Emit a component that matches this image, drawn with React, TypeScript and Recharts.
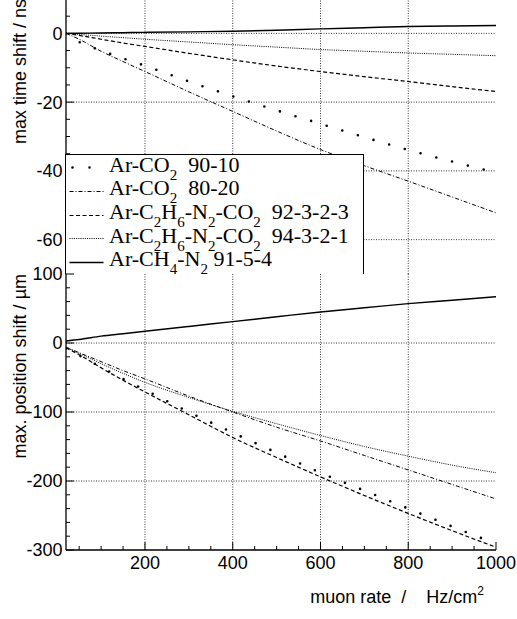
import React from "react";
import { Legend, Line, LineChart, ReferenceLine, XAxis, YAxis } from "recharts";

const SANS = "'Liberation Sans', Arial, sans-serif";
const SERIF = "'Liberation Serif', 'Times New Roman', serif";

const rate = [20, 50, 100, 150, 200, 300, 400, 500, 600, 700, 800, 900, 1000];

// max time shift / ns
const timeArCo2_9010 = [0, -2.5, -5.0, -7.3, -9.4, -14.0, -18.3, -22.4, -26.3, -30.2, -33.9, -37.3, -40.5];
const timeArCo2_8020 = [0, -1.7, -5.2, -8.2, -11.1, -17.0, -22.7, -28.4, -33.8, -38.5, -43.0, -47.6, -52.2];
const timeEthane_9232 = [0, -0.6, -1.7, -2.8, -3.8, -5.8, -7.7, -9.5, -11.1, -12.6, -14.0, -15.5, -16.9];
const timeEthane_9432 = [0, -0.3, -0.8, -1.25, -1.7, -2.5, -3.3, -4.0, -4.7, -5.2, -5.7, -6.1, -6.5];
const timeMethane_9154 = [0, 0.05, 0.1, 0.2, 0.3, 0.45, 0.6, 0.9, 1.3, 1.65, 2.0, 2.15, 2.3];

// max. position shift / um
const posArCo2_9010 = [-8, -18, -35, -52, -68, -100, -130, -159, -188, -214, -240, -266, -291];
const posArCo2_8020 = [-6, -14, -27, -40, -52, -77, -100, -122, -142, -163, -184, -205, -226];
const posEthane_9232 = [-7, -17, -36, -54, -71, -104, -137, -166, -194, -221, -247, -272, -296];
const posEthane_9432 = [-6, -15, -30, -44, -57, -79, -99, -117, -134, -150, -164, -177, -188];
const posMethane_9154 = [3, 5, 10, 13.5, 17, 24, 31, 38, 45, 51, 57, 62, 67];

const xTicks = [50, 100, 150, 200, 250, 300, 350, 400, 450, 500, 550, 600, 650, 700, 750, 800, 850, 900, 950, 1000];
const xGrid = [200, 400, 600, 800];
const timeTicks = [-70, -65, -60, -55, -50, -45, -40, -35, -30, -25, -20, -15, -10, -5, 0, 5, 10];
const timeGrid = [-60, -40, -20, 0];
const posTicks = [-300, -280, -260, -240, -220, -200, -180, -160, -140, -120, -100, -80, -60, -40, -20, 0, 20, 40, 60, 80, 100];
const posGrid = [-200, -100, 0];

const timeRows = rate.map((r, i) => ({
  rate: r,
  ar9010: timeArCo2_9010[i],
  ar8020: timeArCo2_8020[i],
  eth9232: timeEthane_9232[i],
  eth9432: timeEthane_9432[i],
  ch4: timeMethane_9154[i],
}));

const posRows = rate.map((r, i) => ({
  rate: r,
  ar9010: posArCo2_9010[i],
  ar8020: posArCo2_8020[i],
  eth9232: posEthane_9232[i],
  eth9432: posEthane_9432[i],
  ch4: posMethane_9154[i],
}));

const lineStyles: Record<string, any> = {
  ar9010: { strokeWidth: 2.6, strokeDasharray: "0 16.3", strokeLinecap: "round" },
  ar8020: { strokeWidth: 1, strokeDasharray: "4 2 1 2" },
  eth9232: { strokeWidth: 1.2, strokeDasharray: "4 2.5" },
  eth9432: { strokeWidth: 1, strokeDasharray: "1 1.2" },
  ch4: { strokeWidth: 1.4 },
};
const seriesKeys = ["ar9010", "ar8020", "eth9232", "eth9432", "ch4"];

const Sub = ({ children }: { children: React.ReactNode }) => (
  <span style={{ fontSize: 15, verticalAlign: "-8px", lineHeight: 0 }}>{children}</span>
);

const legendRows = [
  { key: "ar9010", label: <>Ar-CO<Sub>2</Sub>{"  90-10"}</> },
  { key: "ar8020", label: <>Ar-CO<Sub>2</Sub>{"  80-20"}</> },
  { key: "eth9232", label: <>Ar-C<Sub>2</Sub>H<Sub>6</Sub>-N<Sub>2</Sub>-CO<Sub>2</Sub>{"  92-3-2-3"}</> },
  { key: "eth9432", label: <>Ar-C<Sub>2</Sub>H<Sub>6</Sub>-N<Sub>2</Sub>-CO<Sub>2</Sub>{"  94-3-2-1"}</> },
  { key: "ch4", label: <>Ar-CH<Sub>4</Sub>-N<Sub>2</Sub>{" 91-5-4"}</> },
];

function LegendBox() {
  const rowH = 23.7;
  return (
    <div
      style={{
        width: 299,
        height: 120,
        boxSizing: "border-box",
        borderTop: "1.5px solid #000",
        borderRight: "1.5px solid #000",
        borderLeft: "1.5px solid #000",
        background: "#fff",
        overflow: "hidden",
        fontFamily: SERIF,
        fontSize: 22,
        color: "#000",
      }}
    >
      {legendRows.map((row) => {
        const st = lineStyles[row.key];
        const isDots = row.key === "ar9010";
        return (
          <div key={row.key} style={{ height: rowH, display: "flex", alignItems: "flex-start" }}>
            <svg width={43} height={rowH} style={{ flex: "none" }}>
              <line
                x1={3.5}
                x2={37.5}
                y1={12.5}
                y2={12.5}
                stroke="#000"
                {...st}
                strokeDasharray={isDots ? "0 17" : st.strokeDasharray}
                strokeDashoffset={isDots ? 14 : 0}
              />
            </svg>
            <span style={{ position: "relative", top: -2.7, whiteSpace: "pre", lineHeight: `${rowH}px` }}>
              {row.label}
            </span>
          </div>
        );
      })}
    </div>
  );
}

function makeXTick(side: "top" | "bottom", labeled: boolean) {
  return (p: any) => {
    const v = p.payload.value;
    const major = v % 200 === 0;
    const len = major ? 8 : 4;
    const dir = side === "bottom" ? -1 : 1;
    return (
      <g>
        <line x1={p.x} x2={p.x} y1={p.y} y2={p.y + dir * len} stroke="#000" strokeWidth={1} />
        {labeled && major ? (
          <text x={p.x} y={p.y + 19} textAnchor="middle" fontSize={18} fontFamily={SANS} fill="#000">
            {v}
          </text>
        ) : null}
      </g>
    );
  };
}

function makeYTick(side: "left" | "right", majorStep: number, labeled: boolean) {
  return (p: any) => {
    const v = p.payload.value;
    const major = v % majorStep === 0;
    const len = major ? 8 : 4;
    const dir = side === "left" ? 1 : -1;
    return (
      <g>
        <line x1={p.x} x2={p.x + dir * len} y1={p.y} y2={p.y} stroke="#000" strokeWidth={1} />
        {labeled && major ? (
          <text x={p.x - 3.5} y={p.y} dy="0.36em" textAnchor="end" fontSize={18} fontFamily={SANS} fill="#000">
            {v}
          </text>
        ) : null}
      </g>
    );
  };
}

function yTitle(text: string, fallbackY: number) {
  return (props: any) => {
    const y = props?.viewBox?.y ?? fallbackY;
    const x = 25.5;
    return (
      <text
        x={x}
        y={y}
        transform={`rotate(-90 ${x} ${y})`}
        textAnchor="end"
        fontSize={18}
        fontFamily={SANS}
        fill="#000"
      >
        {text}
      </text>
    );
  };
}

function xTitle(props: any) {
  const vb = props?.viewBox ?? { x: 66, y: 287, width: 430 };
  const x = vb.x + vb.width - 12;
  const y = vb.y + 53;
  return (
    <text x={x} y={y} textAnchor="end" fontSize={18} fontFamily={SANS} fill="#000" style={{ whiteSpace: "pre" }}>
      {"muon rate  /    Hz/cm"}
      <tspan dy={-8} fontSize={12}>2</tspan>
    </text>
  );
}

const frame = { stroke: "#000", strokeWidth: 1.3 };

function Panel(props: {
  data: any[];
  domain: [number, number];
  yTicks: number[];
  yGrid: number[];
  yMajor: number;
  height: number;
  marginTop: number;
  bottomAxisHeight: number;
  labeledX: boolean;
  title: string;
  withLegend?: boolean;
}) {
  const { data, domain, yTicks, yGrid, yMajor, height, marginTop, bottomAxisHeight, labeledX, title, withLegend } = props;
  return (
    <LineChart width={517} height={height} data={data} margin={{ top: marginTop, right: 21, bottom: 0, left: 0 }}>
      <XAxis
        xAxisId="b"
        dataKey="rate"
        type="number"
        domain={[20, 1000]}
        ticks={xTicks}
        interval={0}
        allowDataOverflow
        height={bottomAxisHeight}
        tickSize={0}
        tickMargin={0}
        tickLine={false}
        axisLine={frame}
        tick={makeXTick("bottom", labeledX)}
        label={labeledX ? xTitle : undefined}
      />
      <XAxis
        xAxisId="t"
        orientation="top"
        dataKey="rate"
        type="number"
        domain={[20, 1000]}
        ticks={xTicks}
        interval={0}
        allowDataOverflow
        height={0}
        tickSize={0}
        tickMargin={0}
        tickLine={false}
        axisLine={frame}
        tick={makeXTick("top", false)}
      />
      <YAxis
        yAxisId="l"
        type="number"
        domain={domain}
        ticks={yTicks}
        interval={0}
        allowDataOverflow
        width={66}
        tickSize={0}
        tickMargin={0}
        tickLine={false}
        axisLine={frame}
        tick={makeYTick("left", yMajor, true)}
        label={yTitle(title, marginTop)}
      />
      <YAxis
        yAxisId="r"
        orientation="right"
        type="number"
        domain={domain}
        ticks={yTicks}
        interval={0}
        allowDataOverflow
        width={0}
        tickSize={0}
        tickMargin={0}
        tickLine={false}
        axisLine={frame}
        tick={makeYTick("right", yMajor, false)}
      />
      {xGrid.map((v) => (
        <ReferenceLine key={`vx${v}`} x={v} xAxisId="b" yAxisId="l" stroke="#000" strokeWidth={0.8} strokeDasharray="1 1.5" />
      ))}
      {yGrid.map((v) => (
        <ReferenceLine key={`hy${v}`} y={v} xAxisId="b" yAxisId="l" stroke="#000" strokeWidth={0.8} strokeDasharray="1 1.5" />
      ))}
      {seriesKeys.map((k) => (
        <Line
          key={k}
          xAxisId="b"
          yAxisId="l"
          type="monotone"
          dataKey={k}
          stroke="#000"
          fill="none"
          {...lineStyles[k]}
          dot={false}
          activeDot={false}
          isAnimationActive={false}
        />
      ))}
      {withLegend ? (
        <Legend
          layout="vertical"
          align="center"
          verticalAlign="middle"
          content={() => <LegendBox />}
          wrapperStyle={{ left: 65, top: 158.3, width: 299, height: 120 }}
        />
      ) : null}
    </LineChart>
  );
}

export default function App() {
  return (
    <div style={{ position: "absolute", left: 0, top: 0, width: 517, height: 619, overflow: "hidden", background: "#fff" }}>
      <div style={{ position: "absolute", left: 0, top: -4 }}>
        <Panel
          data={timeRows}
          domain={[-70, 10]}
          yTicks={timeTicks}
          yGrid={timeGrid}
          yMajor={20}
          height={278}
          marginTop={3}
          bottomAxisHeight={0}
          labeledX={false}
          title="max time shift / ns"
          withLegend
        />
      </div>
      <div style={{ position: "absolute", left: 0, top: 263 }}>
        <Panel
          data={posRows}
          domain={[-300, 100]}
          yTicks={posTicks}
          yGrid={posGrid}
          yMajor={100}
          height={356}
          marginTop={11}
          bottomAxisHeight={69}
          labeledX
          title="max. position shift / µm"
        />
      </div>
    </div>
  );
}
